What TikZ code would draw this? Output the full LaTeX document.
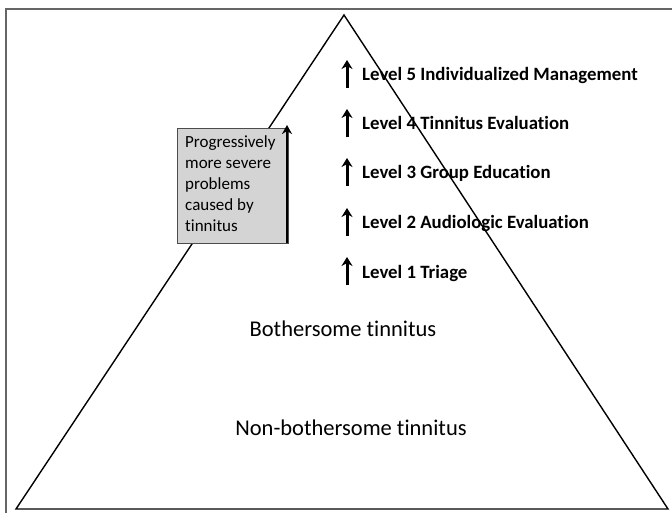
\documentclass[tikz,border=0pt]{standalone}
\usepackage{fontspec}
\setmainfont{Carlito}[Ligatures=NoCommon]
\usetikzlibrary{arrows.meta}
\begin{document}
\begin{tikzpicture}[x=1pt,y=-1pt,
  frameline/.style={draw=black!60,line width=1.3pt},
  triline/.style={draw=black,line width=1.4pt,line join=miter},
  leveltext/.style={anchor=base west,inner sep=0pt,font=\fontsize{18.8}{23}\selectfont\bfseries},
  levelarrow/.style={line width=3pt,-{Stealth[length=9pt,width=11pt]}},
  basetext/.style={anchor=base,inner sep=0pt,font=\fontsize{22.5}{27}\selectfont},
  sevbox/.style={draw=black!70,line width=0.8pt,fill=black!17,minimum width=111pt,minimum height=115pt,inner sep=0pt,anchor=north west}]
\useasboundingbox (0,0) rectangle (672,513);
\fill[white] (0,0) rectangle (672,513);
% frame
\coordinate (fbl) at (6,513);
\coordinate (ftl) at (6,9);
\coordinate (ftr) at (672,9);
\draw[frameline] (fbl) -- (ftl) -- (ftr);
% pyramid
\coordinate (apex) at (344,15);
\coordinate (bl) at (16,509);
\coordinate (br) at (668,509);
\draw[triline] (apex) -- (bl) -- (br) -- cycle;
% box
\node[sevbox] (box) at (177,128) {};
\node[anchor=north west,inner sep=0pt,align=left,font=\fontsize{17}{21}\selectfont] (boxtext) at (185,135)
  {Progressively\\more severe\\problems\\caused by\\tinnitus};
\coordinate (arrbot) at (287,243);
\coordinate (arrtop) at (287,125);
\draw[line width=2.8pt,-{Stealth[length=9pt,width=10pt]}] (arrbot) -- (arrtop);
% levels
\foreach \n/\y/\t in {5/75/Level 5 Individualized Management,4/124/Level 4 Tinnitus Evaluation,3/173/Level 3 Group Education,2/223/Level 2 Audiologic Evaluation,1/272/Level 1 Triage}{
  \coordinate (ab\n) at (347,\y+13);
  \coordinate (at\n) at (347,\y-15);
  \draw[levelarrow] (ab\n) -- (at\n);
  \node[leveltext] (lev\n) at (362,\y+6) {\t};
}
\node[basetext] (both) at (343,336) {Bothersome tinnitus};
\node[basetext] (nonboth) at (351,435) {Non-bothersome tinnitus};
\end{tikzpicture}
\end{document}
